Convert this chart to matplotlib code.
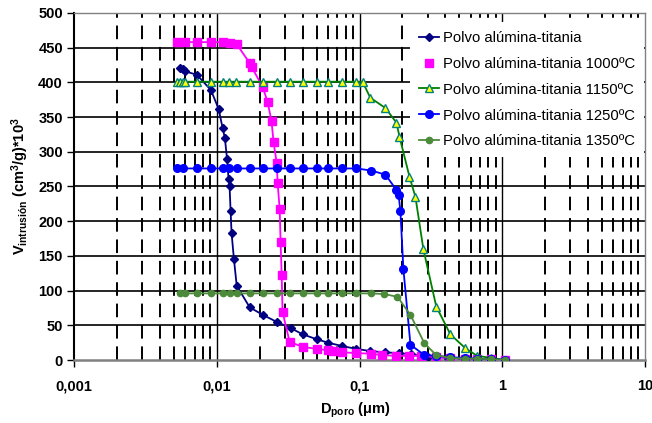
import matplotlib
matplotlib.use("Agg")
import matplotlib.pyplot as plt
from matplotlib.lines import Line2D
from matplotlib.ticker import FixedLocator, NullFormatter

plt.rcParams['font.family'] = ['Liberation Sans', 'DejaVu Sans']
plt.rcParams['mathtext.fontset'] = 'custom'
plt.rcParams['mathtext.rm'] = 'Liberation Sans:bold'
plt.rcParams['mathtext.it'] = 'Liberation Sans:bold'
plt.rcParams['mathtext.bf'] = 'Liberation Sans:bold'

# ---------------- data ----------------
labels = ["Polvo alúmina-titania",
          "Polvo alúmina-titania 1000ºC",
          "Polvo alúmina-titania 1150ºC",
          "Polvo alúmina-titania 1250ºC",
          "Polvo alúmina-titania 1350ºC"]

d_base = [0.0055, 0.0058, 0.0060, 0.00725, 0.0091, 0.0103, 0.0110, 0.0114, 0.0118,
          0.0121, 0.0123, 0.0125, 0.0127, 0.0132, 0.0138, 0.0170, 0.0210, 0.0263,
          0.0329, 0.040, 0.050, 0.060, 0.076, 0.095, 0.118, 0.15, 0.19, 0.23, 0.30,
          0.42, 0.55, 0.67, 0.84, 1.05]
v_base = [421, 419, 416, 411, 389, 362, 334, 320, 290, 261, 250, 215, 183, 145, 107,
          76, 65, 55, 46, 37, 30, 25, 20, 16, 13, 11, 10, 8, 5, 3, 2, 1, 1, 0]

d_1000 = [0.00525, 0.0060, 0.00725, 0.0091, 0.0110, 0.0123, 0.0138, 0.0170, 0.0176,
          0.0210, 0.0227, 0.0242, 0.0250, 0.0263, 0.0267, 0.0276, 0.0280, 0.0285,
          0.0289, 0.0324, 0.040, 0.050, 0.060, 0.065, 0.076, 0.095, 0.121, 0.144,
          0.181, 0.224, 0.271, 0.345, 0.43, 0.55, 0.67, 0.84, 1.05]
v_1000 = [458, 458, 458, 458, 458, 457, 455, 428, 422, 393, 372, 344, 314, 284, 255,
          217, 170, 122, 69, 26, 19, 16, 14, 13, 11, 10, 9, 7, 6, 6, 6, 4, 3, 2, 1, 1, 0]

d_1150 = [0.00525, 0.0055, 0.0058, 0.0060, 0.00725, 0.0091, 0.0110, 0.0121, 0.0136,
          0.0170, 0.0210, 0.0263, 0.0324, 0.040, 0.050, 0.060, 0.076, 0.0938, 0.105,
          0.119, 0.152, 0.1815, 0.1905, 0.224, 0.2465, 0.280, 0.345, 0.433, 0.551,
          0.668, 0.838, 1.05]
v_1150 = [401, 401, 401, 401, 401, 401, 401, 401, 401, 401, 401, 401, 401, 401, 401,
          401, 401, 401, 401, 378, 363, 342, 322, 264, 235, 160, 77, 37, 17, 6, 3, 0]

d_1250 = [0.00525, 0.0058, 0.00725, 0.0091, 0.0110, 0.0121, 0.0138, 0.0170, 0.0210,
          0.0263, 0.0324, 0.040, 0.050, 0.060, 0.076, 0.095, 0.121, 0.152, 0.1815,
          0.188, 0.1935, 0.203, 0.2275, 0.285, 0.345, 0.433, 0.551, 0.668, 0.838, 1.05]
v_1250 = [276, 276, 276, 276, 276, 276, 276, 276, 276, 276, 276, 276, 276, 276, 276,
          276, 273, 267, 245, 238, 214, 131, 22, 7, 6, 4, 3, 2, 1, 0]

d_1350 = [0.0055, 0.0060, 0.00725, 0.0091, 0.0110, 0.0123, 0.0138, 0.0170, 0.0210,
          0.0263, 0.0324, 0.040, 0.050, 0.060, 0.076, 0.094, 0.121, 0.1496, 0.1845,
          0.2275, 0.285, 0.345, 0.433, 0.551, 0.668, 0.838, 1.05]
v_1350 = [96, 96, 96, 96, 96, 96, 96, 96, 96, 96, 96, 96, 96, 96, 96, 96, 96, 95, 91,
          65, 24, 7, 3, 2, 2, 1, 0]

x_ticks = [0.001, 0.01, 0.1, 1, 10]
x_tick_labels = ["0,001", "0,01", "0,1", "1", "10"]
y_ticks = list(range(0, 501, 50))

# ---------------- figure ----------------
fig = plt.figure(figsize=(6.52, 4.23), dpi=100)
ax = fig.add_axes([74/652, 1-360/423, (645-74)/652, (360-13)/423])
ax.set_xscale('log')
ax.set_xlim(0.001, 10)
ax.set_ylim(0, 500)

# grid
for y in y_ticks[1:]:
    ax.axhline(y, color='black', lw=1.2, zorder=0)
for x in [0.01, 0.1, 1]:
    ax.axvline(x, color='black', lw=1.0, zorder=0)
minor = [m * 10.0**e for e in (-3, -2, -1, 0) for m in range(2, 10)]
for x in minor:
    ax.axvline(x, color='black', lw=1.4, ls=(0, (7, 4)), zorder=0)

ms_kw = dict(lw=1.3)
ax.plot(d_base, v_base, color='#000080', marker='D', ms=4, mec='#000080', **ms_kw, zorder=3)
ax.plot(d_1000, v_1000, color='#FF00FF', marker='s', ms=5.5, mec='#FF00FF', **ms_kw, zorder=4)
ax.plot(d_1150, v_1150, color='#008000', marker='^', ms=6, mfc='#FFFF00', mec='#008080',
        mew=1.0, **ms_kw, zorder=5)
ax.plot(d_1250, v_1250, color='#0000FF', marker='o', ms=5.5, mec='#0000FF', **ms_kw, zorder=6)
ax.plot(d_1350, v_1350, color='#4C8B3A', marker='o', ms=4.5, mec='#4C8B3A', **ms_kw, zorder=7)

# spines
for s in ['top', 'right']:
    ax.spines[s].set_color('#808080')
    ax.spines[s].set_linewidth(1.0)
ax.spines['left'].set_color('black')
ax.spines['left'].set_linewidth(1.5)
ax.spines['bottom'].set_color('#808080')
ax.spines['bottom'].set_linewidth(1.8)

ax.xaxis.set_major_locator(FixedLocator(x_ticks))
ax.set_xticklabels(x_tick_labels)
ax.xaxis.set_minor_locator(FixedLocator([]))
ax.xaxis.set_minor_formatter(NullFormatter())
ax.set_yticks(y_ticks)
ax.tick_params(axis='x', which='major', direction='out', length=5, width=1,
               pad=9, labelsize=10.5, color='black')
ax.tick_params(axis='y', which='major', direction='out', length=5, width=1,
               pad=3, labelsize=10.5, color='black')
for lab in ax.get_xticklabels() + ax.get_yticklabels():
    lab.set_fontweight('bold')

fig.text(355/652, 1-410/423, r'D$_{\rm poro}$ ($\rm \mu$m)', ha='center', va='center',
         fontsize=10.5, fontweight='bold')
fig.text(20/652, 1-186/423, r'V$_{\rm intrusión}$ (cm$^{\rm 3}$/g)*10$^{\rm 3}$',
         ha='center', va='center', rotation=90, fontsize=10.5, fontweight='bold')

handles = [
    Line2D([], [], color='#000080', marker='D', ms=4, lw=1.3),
    Line2D([], [], color='#FF00FF', marker='s', ms=5.5, lw=0),
    Line2D([], [], color='#008000', marker='^', ms=6, mfc='#FFFF00', mec='#008080', lw=1.3),
    Line2D([], [], color='#0000FF', marker='o', ms=5.5, lw=1.3),
    Line2D([], [], color='#4C8B3A', marker='o', ms=4.5, lw=1.3),
]
leg = ax.legend(handles, labels, loc='upper left',
                bbox_to_anchor=(410/652, 1-22/423), bbox_transform=fig.transFigure,
                frameon=True, fancybox=False, framealpha=1, facecolor='white',
                edgecolor='none', fontsize=10.7, handlelength=1.35, handletextpad=0.25,
                labelspacing=0.8, borderpad=0.6, borderaxespad=0)
leg.set_zorder(10)

fig.savefig('out.png', dpi=100)
